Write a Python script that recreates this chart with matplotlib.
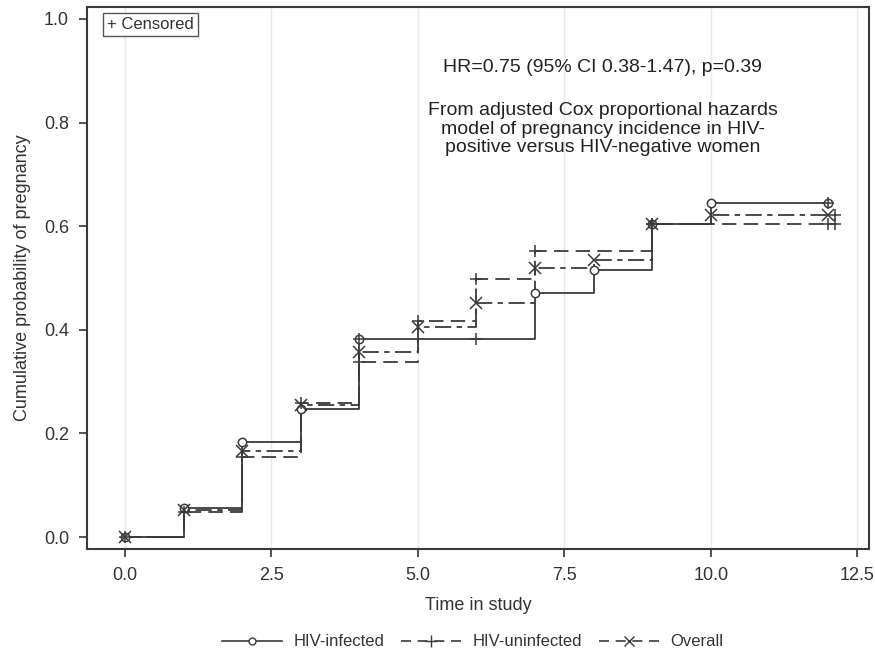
import matplotlib
matplotlib.use("Agg")
import matplotlib.pyplot as plt
from matplotlib.lines import Line2D

plt.rcParams["font.family"] = ["Liberation Sans", "DejaVu Sans"]

# ---- data ----
times = [0, 1, 2, 3, 4, 5, 6, 7, 8, 9, 10, 12]
infected = [0.0, 0.056, 0.183, 0.247, 0.383, 0.383, 0.383, 0.471, 0.516, 0.604, 0.645, 0.645]
uninfected = [0.0, 0.048, 0.154, 0.259, 0.338, 0.417, 0.498, 0.552, 0.552, 0.604, 0.604, 0.604]
overall = [0.0, 0.052, 0.166, 0.255, 0.357, 0.405, 0.452, 0.519, 0.535, 0.604, 0.622, 0.622]

infected_events = [0, 1, 2, 3, 4, 7, 8, 9, 10, 12]
uninfected_events = [0, 1, 2, 3, 4, 5, 6, 7, 9]
overall_events = [0, 1, 2, 3, 4, 5, 6, 7, 8, 9, 10, 12]

infected_censor = [(6, 0.383), (4, 0.383), (9, 0.604), (12.0, 0.645)]
uninfected_censor = [(12.0, 0.604), (12.12, 0.604)]
overall_censor = [(12.12, 0.622)]

labels = ["HIV-infected", "HIV-uninfected", "Overall"]
xticks = [0.0, 2.5, 5.0, 7.5, 10.0, 12.5]
yticks = [0.0, 0.2, 0.4, 0.6, 0.8, 1.0]

col = "#3a3a3a"
tcol = "#333333"

fig = plt.figure(figsize=(8.75, 6.53), dpi=100)
ax = fig.add_axes([0.0994, 0.1593, 0.8936, 0.830])

ax.set_xlim(-0.65, 12.70)
ax.set_ylim(-0.023, 1.023)

for xt in xticks:
    ax.axvline(xt, color="#e8e8e8", lw=1.0, zorder=0)

dash = (0, (8, 4))
dashdot = (0, (9, 3, 3, 3))

series = [
    (infected, infected_events, "o", "-", infected_censor),
    (uninfected, uninfected_events, "+", dash, uninfected_censor),
    (overall, overall_events, "x", dashdot, overall_censor),
]
for vals, ev, mk, ls, cens in series:
    ax.step(times, vals, where="post", color=col, lw=1.3, ls=ls, zorder=2)
    ex = [times[i] for i in range(len(times)) if times[i] in ev]
    ey = [vals[i] for i in range(len(times)) if times[i] in ev]
    if mk == "o":
        ax.plot(ex, ey, ls="none", marker="o", ms=6, mfc="white", mec=col, mew=1.1, zorder=3)
    else:
        ax.plot(ex, ey, ls="none", marker=mk, ms=8, mec=col, mew=1.1, zorder=3)
    cx = [c[0] for c in cens]
    cy = [c[1] for c in cens]
    ax.plot(cx, cy, ls="none", marker="+", ms=8, mec=col, mew=1.1, zorder=4)

ax.set_xticks(xticks)
ax.set_xticklabels([f"{v:.1f}" for v in xticks])
ax.set_yticks(yticks)
ax.set_yticklabels([f"{v:.1f}" for v in yticks])
ax.tick_params(axis="both", labelsize=13, colors=tcol, length=6, width=1.2, pad=7)
for sp in ax.spines.values():
    sp.set_color(col)
    sp.set_linewidth(1.5)

ax.set_xlabel("Time in study", fontsize=13, color=tcol, labelpad=9)
ax.set_ylabel("Cumulative probability of pregnancy", fontsize=13, color=tcol, labelpad=9)

ax.text(0.026, 0.982, "+ Censored", transform=ax.transAxes, fontsize=12, color=tcol,
        ha="left", va="top",
        bbox=dict(boxstyle="square,pad=0.25", fc="white", ec="#555555", lw=1.0))

fig.text(602 / 875, 1 - 67 / 653, "HR=0.75 (95% CI 0.38-1.47), p=0.39",
         fontsize=14, color="#222222", ha="center", va="center")
fig.text(603 / 875, 1 - 129 / 653,
         "From adjusted Cox proportional hazards\nmodel of pregnancy incidence in HIV-\npositive versus HIV-negative women",
         fontsize=14, color="#222222", ha="center", va="center", linespacing=1.1)

handles = [
    Line2D([], [], color=col, lw=1.2, ls="-", marker="o", ms=5, mfc="white", mec=col),
    Line2D([], [], color=col, lw=1.2, ls=(0, (6, 4)), marker="+", ms=9, mec=col),
    Line2D([], [], color=col, lw=1.2, ls=(0, (6, 4)), marker="x", ms=7, mec=col),
]
fig.legend(handles, labels, loc="center", bbox_to_anchor=(0.54, 1 - 642 / 653), ncol=3,
           frameon=False, fontsize=12, handlelength=3.6, handletextpad=0.7,
           columnspacing=1.0, labelcolor=tcol)

fig.savefig("out.png", dpi=100)
